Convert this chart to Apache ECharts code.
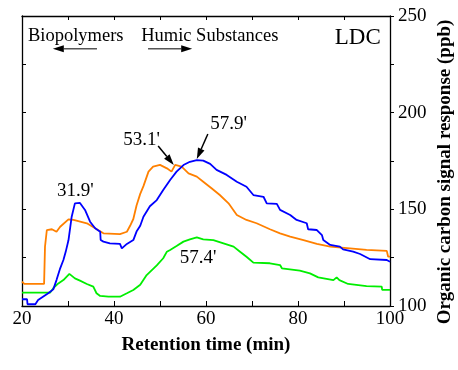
<!DOCTYPE html>
<html>
<head>
<meta charset="utf-8">
<script src="https://cdn.jsdelivr.net/npm/echarts@6/dist/echarts.min.js"></script>
<style>
html,body{margin:0;padding:0;background:#fff;}
#main{width:458px;height:370px;}
</style>
</head>
<body>
<div id="main"></div>
<script>
// ---- data ----
const xTicks = [20, 40, 60, 80, 100];
const yTicks = [100, 150, 200, 250];

const blueTime  = [20, 21.1, 21.2, 22.9, 23.5, 25.7, 26.8, 27.5, 28.3, 29.0, 29.5, 30.1, 30.8, 31.5, 32.6, 33.7, 34.8, 35.9, 37.0, 37.1, 37.7, 39.1, 41.3, 41.7, 42.8, 44.2, 44.9, 45.7, 46.4, 47.8, 49.3, 50.7, 52.2, 53.6, 55.1, 56.5, 58.0, 59.4, 60.9, 62.3, 64.5, 66.7, 68.8, 70.3, 72.5, 73.2, 75.4, 76.1, 78.3, 79.7, 81.9, 82.2, 84.1, 85.2, 85.5, 87.0, 89.1, 89.8, 92.0, 93.5, 95.7, 99.3, 100];
const blueValue = [103.5, 103.5, 100.9, 100.9, 103.1, 106.6, 108.6, 113.4, 119.5, 123.8, 128, 134.0, 146.2, 153.1, 153.3, 149.7, 143.6, 140.2, 138.4, 134.1, 133.3, 132.4, 132.1, 129.8, 132.1, 134.1, 138.5, 141.5, 146.2, 151.6, 154.8, 160.0, 165.2, 169.5, 172.9, 174.6, 175.5, 175.2, 173.5, 170.4, 167.8, 164.3, 161.7, 157.4, 156.5, 153.1, 152.8, 149.7, 147.1, 144.5, 142.8, 139.7, 139.3, 136.7, 134.1, 131.6, 130.7, 129.3, 128.1, 126.9, 124.2, 123.8, 122.9];

const orangeTime  = [20, 20.5, 24.8, 25.0, 25.4, 26.5, 27.5, 28.3, 30.1, 31.2, 34.1, 35.9, 37.7, 41.3, 42.8, 43.5, 44.2, 44.9, 45.7, 46.4, 47.5, 48.5, 50.0, 51.5, 52.5, 53.3, 54.7, 56.2, 58.0, 59.4, 61.2, 63.0, 64.9, 66.7, 68.8, 71.0, 73.9, 76.1, 78.3, 81.2, 84.1, 87.0, 91.3, 94.9, 99.3, 99.6, 100];
const orangeValue = [112.6, 111.4, 111.4, 130.7, 139.3, 139.7, 138.4, 141.0, 144.8, 144.5, 142.8, 140.2, 137.6, 137.2, 138.4, 141.5, 145.0, 152.0, 158.0, 162.0, 169.5, 172.1, 173.0, 171.2, 169.5, 173.0, 172.1, 168.6, 166.9, 164.3, 160.9, 157.4, 153.1, 147.1, 144.5, 142.8, 139.7, 137.6, 135.9, 134.1, 132.1, 130.7, 129.8, 129.0, 128.5, 125.5, 125.5];

const greenTime  = [20, 26.1, 26.8, 27.9, 29.0, 30.3, 31.5, 32.6, 34.1, 35.5, 36.2, 37.0, 38.8, 41.3, 42.8, 44.2, 45.7, 47.1, 49.3, 50.7, 51.5, 52.2, 53.6, 55.1, 56.5, 58.0, 59.4, 61.6, 63.8, 66.0, 67.4, 68.8, 70.3, 73.9, 76.1, 76.5, 80.4, 82.6, 84.4, 87.7, 88.4, 89.0, 90.9, 94.9, 98.2, 98.3, 100];
const greenValue = [106.9, 106.9, 109.2, 111.7, 113.4, 116.6, 114.3, 113.1, 111.4, 110.0, 106.6, 105.2, 104.8, 104.8, 106.6, 108.3, 111.0, 116.0, 121.0, 124.7, 128.1, 129.0, 131.0, 133.3, 134.5, 135.5, 134.5, 134.1, 132.4, 130.7, 128.1, 125.5, 122.4, 122.1, 121.2, 119.5, 118.3, 116.9, 114.8, 113.4, 114.8, 113.4, 111.4, 110.3, 110.0, 108.3, 108.3];

// annotations (data coordinates)
const labelTexts  = ['Biopolymers', 'Humic Substances', 'LDC', "31.9'", "53.1'", "57.9'", "57.4'"];
const labelTime   = [21.3, 45.9, 88.0, 27.6, 42.0, 60.9, 54.3];
const labelValue  = [239.7, 239.7, 238.4, 159.5, 186.1, 193.9, 124.6];
const labelSize   = [18.5, 18.5, 23, 19, 19, 19, 19];
// arrows: [fromTime, fromValue, toTime, toValue]
const arrowFrom = [[36.3, 233.0], [47.4, 233.0], [49.6, 182.8], [60.4, 189.0]];
const arrowTo   = [[26.7, 233.0], [57.0, 233.0], [53.0, 172.9], [58.0, 176.0]];
const arrowColor = ['#555', '#555', '#000', '#000'];

function pairs(t, v){ return t.map((x, i) => [x, v[i]]); }

const FONT = 'Liberation Serif';
const chart = echarts.init(document.getElementById('main'), null, {renderer: 'canvas'});

const axisLineStyle = {color: '#000', width: 1.3};

const option = {
  backgroundColor: '#fff',
  animation: false,
  grid: {left: 22, right: 68, top: 16, bottom: 64},
  xAxis: [
    {
      type: 'value', min: 20, max: 100, interval: 20, position: 'bottom',
      axisLine: {show: true, lineStyle: axisLineStyle},
      axisTick: {show: true, inside: true, length: 5, lineStyle: {color: '#000'}},
      minorTick: {show: true, splitNumber: 2, length: 5, lineStyle: {color: '#000'}},
      splitLine: {show: false},
      axisLabel: {fontFamily: FONT, fontSize: 19, color: '#000', margin: 4,
        formatter: v => xTicks.includes(v) ? String(v) : ''},
      name: 'Retention time (min)', nameLocation: 'middle', nameGap: 30,
      nameTextStyle: {fontFamily: FONT, fontSize: 19, fontWeight: 'bold', color: '#000'}
    },
    {
      type: 'value', min: 20, max: 100, interval: 20, position: 'top',
      axisLine: {show: true, lineStyle: axisLineStyle},
      axisTick: {show: true, inside: true, length: 4, lineStyle: {color: '#000'}},
      minorTick: {show: true, splitNumber: 2, length: 4, lineStyle: {color: '#000'}},
      splitLine: {show: false},
      axisLabel: {show: false}
    }
  ],
  yAxis: [
    {
      type: 'value', min: 100, max: 250, interval: 50, position: 'right',
      axisLine: {show: true, lineStyle: axisLineStyle},
      axisTick: {show: true, inside: false, length: 4, lineStyle: {color: '#000'}},
      minorTick: {show: true, splitNumber: 2, length: 4, lineStyle: {color: '#000'}},
      splitLine: {show: false},
      axisLabel: {fontFamily: FONT, fontSize: 19, color: '#000', margin: 8,
        formatter: v => yTicks.includes(v) ? String(v) : ''}
    },
    {
      type: 'value', min: 100, max: 250, interval: 25, position: 'left',
      axisLine: {show: true, lineStyle: axisLineStyle},
      axisTick: {show: true, inside: true, length: 4, lineStyle: {color: '#000'}},
      splitLine: {show: false},
      axisLabel: {show: false}
    }
  ],
  series: [
    {type: 'line', name: 'green', data: pairs(greenTime, greenValue), showSymbol: false,
     lineStyle: {color: '#00ee00', width: 1.8}, xAxisIndex: 0, yAxisIndex: 0, z: 2},
    {type: 'line', name: 'orange', data: pairs(orangeTime, orangeValue), showSymbol: false,
     lineStyle: {color: '#ff8000', width: 1.8}, xAxisIndex: 0, yAxisIndex: 0, z: 3},
    {type: 'line', name: 'blue', data: pairs(blueTime, blueValue), showSymbol: false,
     lineStyle: {color: '#0000ff', width: 1.8}, xAxisIndex: 0, yAxisIndex: 0, z: 4}
  ]
};
chart.setOption(option);

function px(t, v){ return chart.convertToPixel({xAxisIndex: 0, yAxisIndex: 0}, [t, v]); }

const graphics = [];
labelTexts.forEach((txt, i) => {
  const p = px(labelTime[i], labelValue[i]);
  graphics.push({type: 'text', x: p[0], y: p[1], z: 100,
    style: {text: txt, fontFamily: FONT, fontSize: labelSize[i], fill: '#000',
      textAlign: 'left', textVerticalAlign: 'middle'}});
});
arrowFrom.forEach((f, i) => {
  const a = px(f[0], f[1]);
  const b = px(arrowTo[i][0], arrowTo[i][1]);
  const dx = b[0] - a[0], dy = b[1] - a[1];
  const len = Math.sqrt(dx*dx + dy*dy);
  const ux = dx/len, uy = dy/len;
  const hl = 11, hw = 3.5;
  const base = [b[0] - ux*hl, b[1] - uy*hl];
  graphics.push({type: 'line', z: 100, shape: {x1: a[0], y1: a[1], x2: base[0], y2: base[1]},
    style: {stroke: arrowColor[i], lineWidth: 1.5}});
  graphics.push({type: 'polygon', z: 100, shape: {points: [
      b, [base[0] - uy*hw, base[1] + ux*hw], [base[0] + uy*hw, base[1] - ux*hw]]},
    style: {fill: '#000'}});
});
graphics.push({type: 'text', x: 445, y: 172, rotation: Math.PI/2, z: 100,
  style: {text: 'Organic carbon signal response (ppb)', fontFamily: FONT, fontSize: 19,
    fontWeight: 'bold', fill: '#000', textAlign: 'center', textVerticalAlign: 'middle'}});
chart.setOption({graphic: graphics});
</script>
</body>
</html>
